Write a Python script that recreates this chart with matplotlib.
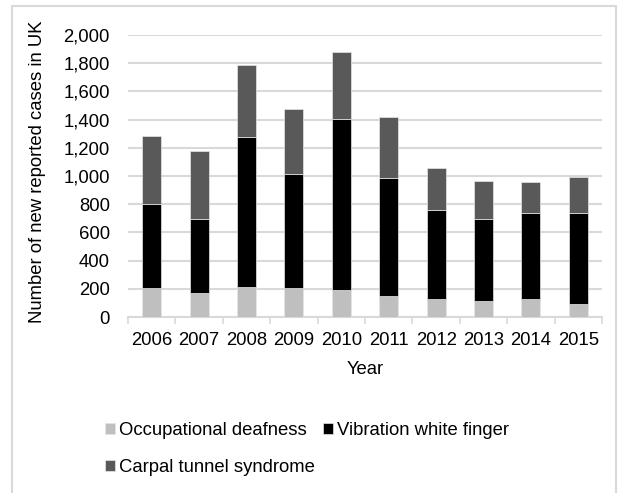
import matplotlib.pyplot as plt
import numpy as np
from matplotlib.patches import Rectangle


years = ['2006', '2007', '2008', '2009', '2010', '2011', '2012', '2013', '2014', '2015']
deafness = [208, 172, 210, 203, 191, 149, 125, 116, 130, 94]
vwf = [596, 525, 1069, 811, 1211, 839, 632, 581, 608, 641]
carpal = [482, 480, 506, 459, 477, 428, 297, 265, 219, 258]

plt.rcParams['font.family'] = ['Liberation Sans', 'DejaVu Sans']
fs = 13.3
grid_col = '#d9d9d9'

fig = plt.figure(figsize=(6.17, 4.93), dpi=100)
ax = fig.add_axes([128/617, 1 - 317/493, 474/617, 282/493])

# chart area border
fig.patches.append(Rectangle((12/617, -0.1), 604/617, 1.1 - 6/493, transform=fig.transFigure,
                             fill=False, edgecolor=grid_col, linewidth=1.5, zorder=0))

x = np.arange(len(years))
w = 0.4
bottom2 = np.array(deafness)
bottom3 = bottom2 + np.array(vwf)
b1 = ax.bar(x, deafness, w, color='#bfbfbf', edgecolor='#e6e6e6', linewidth=0.5, label='Occupational deafness', zorder=3)
b2 = ax.bar(x, vwf, w, bottom=bottom2, color='black', edgecolor='#e6e6e6', linewidth=0.5, label='Vibration white finger', zorder=3)
b3 = ax.bar(x, carpal, w, bottom=bottom3, color='#595959', edgecolor='#e6e6e6', linewidth=0.5, label='Carpal tunnel syndrome', zorder=3)

ax.set_xlim(-0.5, len(years) - 0.5)
ax.set_ylim(0, 2000)
ax.set_yticks(range(0, 2001, 200))
ax.set_yticklabels([f'{v:,}' for v in range(0, 2001, 200)], fontsize=fs)
ax.set_xticks(x)
ax.set_xticklabels(years, fontsize=fs)
ax.set_xticks(np.arange(-0.5, len(years)), minor=True)
ax.tick_params(axis='x', which='major', length=0, pad=11)
ax.tick_params(axis='x', which='minor', length=5, color=grid_col, width=1.2)
ax.tick_params(axis='y', length=0, pad=13)
ax.grid(True, axis='y', color=grid_col, linewidth=1.5, zorder=0)

for s in ['top', 'right', 'left']:
    ax.spines[s].set_visible(False)
ax.spines['bottom'].set_color(grid_col)
ax.spines['bottom'].set_linewidth(1.5)

ax.set_xlabel('Year', fontsize=fs, va='center')
ax.xaxis.set_label_coords(0.5, (317 - 369) / 282)
ax.set_ylabel('Number of new reported cases in UK', fontsize=fs, va='center')
ax.yaxis.set_label_coords((38 - 128) / 474, 0.516)

# legend fills row by row: deafness, vwf / carpal
ax.legend([b1, b3, b2], ['Occupational deafness', 'Carpal tunnel syndrome', 'Vibration white finger'],
          loc='upper left', bbox_to_anchor=(105/617, 1 - 422/493), bbox_transform=fig.transFigure,
          ncol=2, frameon=False, fontsize=fs, borderpad=0, borderaxespad=0,
          handlelength=0.55, handleheight=0.55, handletextpad=0.2, columnspacing=0.45,
          labelspacing=1.1)

fig.savefig('out.png', dpi=100)
